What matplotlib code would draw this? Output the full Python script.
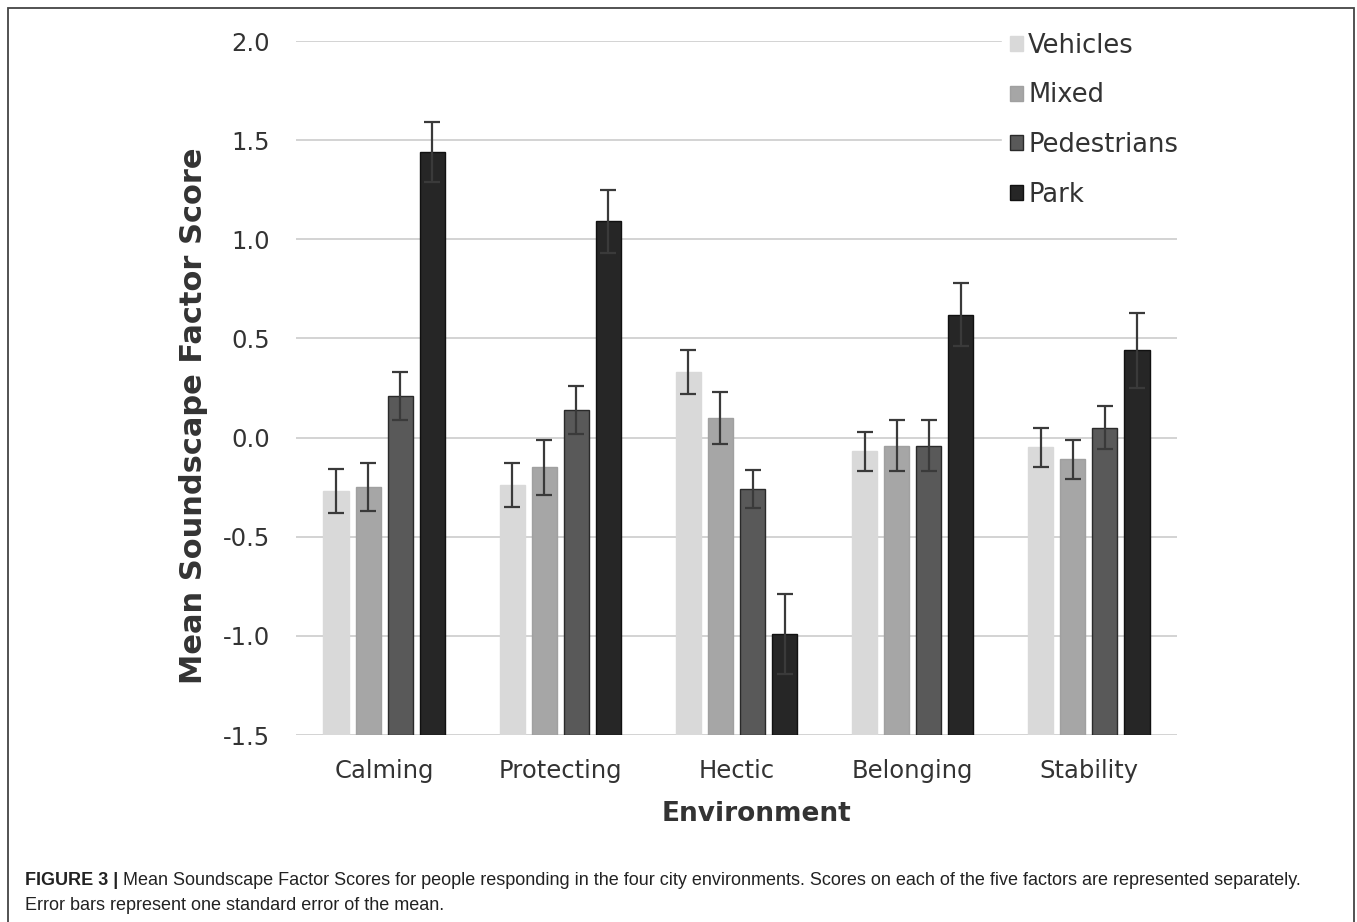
import matplotlib
matplotlib.use("Agg")
import matplotlib.pyplot as plt
import numpy as np
from matplotlib.patches import Rectangle

# Mean soundscape factor scores per city environment, with standard errors
factors = ["Calming", "Protecting", "Hectic", "Belonging", "Stability"]
environments = ["Vehicles", "Mixed", "Pedestrians", "Park"]

vehicles = [-0.27, -0.24, 0.33, -0.07, -0.05]
mixed = [-0.25, -0.15, 0.10, -0.04, -0.11]
pedestrians = [0.21, 0.14, -0.26, -0.04, 0.05]
park = [1.44, 1.09, -0.99, 0.62, 0.44]

vehicles_se = [0.11, 0.11, 0.11, 0.10, 0.10]
mixed_se = [0.12, 0.14, 0.13, 0.13, 0.10]
pedestrians_se = [0.12, 0.12, 0.095, 0.13, 0.11]
park_se = [0.15, 0.16, 0.20, 0.16, 0.19]

y_ticks = [-1.5, -1.0, -0.5, 0.0, 0.5, 1.0, 1.5, 2.0]
y_tick_labels = ["-1.5", "-1.0", "-0.5", "0.0", "0.5", "1.0", "1.5", "2.0"]

series = [vehicles, mixed, pedestrians, park]
errors = [vehicles_se, mixed_se, pedestrians_se, park_se]
fills = ["#d9d9d9", "#a6a6a6", "#595959", "#262626"]
edges = ["#d9d9d9", "#a0a0a0", "#2a2a2a", "#111111"]

W, H = 1357, 922
fig = plt.figure(figsize=(W / 100, H / 100), dpi=100)
fig.patch.set_facecolor("white")

# outer frame around the figure panel
fig.patches.append(Rectangle((8 / W, -0.01), (1354 - 8) / W, 1 - 8 / H + 0.01,
                             transform=fig.transFigure, fill=False,
                             edgecolor="#444444", linewidth=1.3))

ax = fig.add_axes([296 / W, 1 - 735 / H, (1177 - 296) / W, (735 - 41) / H])
ax.set_facecolor("white")

x = np.arange(len(factors))
pitch = 0.182
width = 0.142
for i, (vals, se) in enumerate(zip(series, errors)):
    pos = x + (i - 1.5) * pitch
    ax.bar(pos, np.array(vals) + 1.5, bottom=-1.5, width=width, color=fills[i],
           edgecolor=edges[i], linewidth=1.0, label=environments[i], zorder=2)
    ax.errorbar(pos, vals, yerr=se, fmt="none", ecolor="#3a3a3a",
                elinewidth=1.6, capsize=5.5, capthick=1.6, zorder=3)

ax.set_xlim(-0.5, len(factors) - 0.5)
ax.set_ylim(-1.5, 2.0)
ax.set_yticks(y_ticks)
ax.set_yticklabels(y_tick_labels)
ax.set_xticks(x)
ax.set_xticklabels(factors)
ax.yaxis.grid(True, color="#d0d0d0", linewidth=1.3, zorder=0)
ax.set_axisbelow(True)
for s in ax.spines.values():
    s.set_visible(False)
ax.tick_params(axis="both", length=0, labelsize=17.5, colors="#333333")
ax.tick_params(axis="y", pad=18.5)
ax.tick_params(axis="x", pad=17)

ax.set_ylabel("Mean Soundscape Factor Score", fontsize=22, fontweight="bold",
              color="#333333")
ax.yaxis.set_label_coords((208 - 296) / 881, (735 - 416) / 694)
ax.set_xlabel("Environment", fontsize=19, fontweight="bold", color="#333333")
ax.xaxis.set_label_coords((757 - 296) / 881, (735 - 801) / 694)

leg = ax.legend(loc="upper left", bbox_to_anchor=(1002 / W, 1 - 25 / H),
                bbox_transform=fig.transFigure, frameon=True, fancybox=False,
                edgecolor="white", facecolor="white", framealpha=1,
                fontsize=18.5, handlelength=0.52, handleheight=0.52,
                handletextpad=0.2, labelspacing=0.92, borderpad=0.3,
                borderaxespad=0)
for t in leg.get_texts():
    t.set_color("#333333")

# caption below the chart: bold figure number followed by regular text
cap_size = 13
cap_y1 = 1 - 880 / H
cap_y2 = 1 - 905 / H
head = fig.text(25 / W, cap_y1, "FIGURE 3 | ", fontsize=cap_size, fontweight="bold",
                family="Liberation Sans", va="center", color="#222222")
fig.canvas.draw()
bb = head.get_window_extent()
fig.text(bb.x1 / W, cap_y1,
         "Mean Soundscape Factor Scores for people responding in the four city "
         "environments. Scores on each of the five factors are represented separately.",
         fontsize=cap_size, family="Liberation Sans", va="center", color="#222222")
fig.text(25 / W, cap_y2, "Error bars represent one standard error of the mean.",
         fontsize=cap_size, family="Liberation Sans", va="center", color="#222222")

fig.savefig("out.png", dpi=100, facecolor="white")
